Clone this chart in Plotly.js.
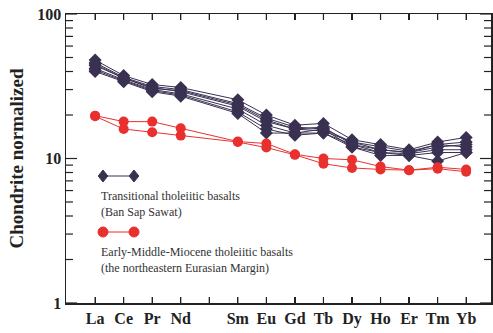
<!DOCTYPE html>
<html>
<head>
<meta charset="utf-8">
<script src="https://cdn.plot.ly/plotly-3.0.1.min.js"></script>
<style>html,body{margin:0;padding:0;background:#fff;}#chart{width:493px;height:333px;}</style>
</head>
<body>
<div id="chart"></div>
<script>
// REE elements (Pm omitted -> gap position)
var elements = ['La','Ce','Pr','Nd','Pm','Sm','Eu','Gd','Tb','Dy','Ho','Er','Tm','Yb'];
var tickLabels = ['La','Ce','Pr','Nd','','Sm','Eu','Gd','Tb','Dy','Ho','Er','Tm','Yb'];
var yMajorTicks = [1, 10, 100];
var yMinorTicks = [2,3,4,5,6,7,8,9,20,30,40,50,60,70,80,90];

// Transitional tholeiitic basalts (Ban Sap Sawat) samples
var bss1 = [48, 37.5, 32.5, 31, null, 25.5, 20, 17, 17.5, 13.5, 12.5, 11.5, 13, 14];
var bss2 = [46, 36.5, 31.5, 30, null, 24, 19, 16.5, 16, 13, 12, 11.2, 12.5, 13];
var bss3 = [44, 36, 31, 29, null, 23, 18, 16, 15.5, 13, 11.5, 11, 12.5, 12];
var bss4 = [42, 35, 30, 28, null, 22, 17, 15, 15, 12.5, 11, 10.8, 11.5, 11.5];
var bss5 = [41, 34.5, 29.5, 27.5, null, 21, 16, 14.5, 15, 12, 10.5, 10.5, 11, 11];
var bss6 = [40, 34, 29, 27, null, 20.5, 15, 15, 16, 12, 11, 10.5, 9.6, 11];
var bss7 = [45, 36, 30.5, 29.5, null, 23.5, 18.5, 16, 16.5, 12.5, 11.5, 11, 12, 12.5];
var bssSamples = [bss1, bss2, bss3, bss4, bss5, bss6, bss7];

// Early-Middle-Miocene tholeiitic basalts (NE Eurasian Margin)
var nem1 = [19.8, 18, 18, 16.2, null, 13.1, 12.7, 10.7, 10, 9.8, 8.8, 8.3, 8.7, 8.4];
var nem2 = [19.6, 16, 15.2, 14.4, null, 13, 11.9, 10.6, 9.2, 8.6, 8.4, 8.3, 8.5, 8.1];
var nemSamples = [nem1, nem2];

var legendText = [
  ['Transitional tholeiitic basalts', '(Ban Sap Sawat)'],
  ['Early-Middle-Miocene tholeiitic basalts', '(the northeastern Eurasian Margin)']
];

var blue = '#3a3152';
var red = '#e8312f';
var idx = elements.map(function(_, i){ return i; });

var traces = [];
bssSamples.forEach(function(s){
  traces.push({x: idx, y: s, type:'scatter', mode:'lines+markers', connectgaps:true,
    line:{color:blue, width:1}, marker:{symbol:'diamond', size:10, color:blue},
    showlegend:false, hoverinfo:'skip'});
});
nemSamples.forEach(function(s){
  traces.push({x: idx, y: s, type:'scatter', mode:'lines+markers', connectgaps:true,
    line:{color:red, width:1}, marker:{symbol:'circle', size:10, color:red},
    showlegend:false, hoverinfo:'skip'});
});

// plot-area pixel helpers for the hand-placed legend and tick marks (decoration only)
var L = 66, R = 491, T = 14, B = 303;
var PW = R - L, PH = B - T;
function px(x){ return (x - L) / PW; }
function py(y){ return (B - y) / PH; }

var serif = '"Liberation Serif", "Times New Roman", serif';
var legFont = {family:serif, size:12, color:'#333'};
var annotations = [
  {x:99, y:196, text:legendText[0][0]},
  {x:99, y:212, text:legendText[0][1]},
  {x:99, y:252, text:legendText[1][0]},
  {x:99, y:268, text:legendText[1][1]}
].map(function(a){
  return {x:px(a.x), y:py(a.y), xref:'paper', yref:'paper', text:a.text, showarrow:false,
    xanchor:'left', yanchor:'middle', font:legFont};
});

function diamond(cx, cy, r){
  var x0 = px(cx - r*0.8), x1 = px(cx + r*0.8), xc = px(cx);
  var y0 = py(cy - r), y1 = py(cy + r), yc = py(cy);
  return {type:'path', xref:'paper', yref:'paper',
    path:'M'+x0+','+yc+' L'+xc+','+y0+' L'+x1+','+yc+' L'+xc+','+y1+' Z',
    fillcolor:blue, line:{color:blue, width:1}};
}
function circle(cx, cy, r){
  return {type:'circle', xref:'paper', yref:'paper',
    x0:px(cx - r), x1:px(cx + r), y0:py(cy + r), y1:py(cy - r),
    fillcolor:red, line:{color:red, width:1}};
}
var shapes = [
  {type:'line', xref:'paper', yref:'paper', x0:px(103), x1:px(134), y0:py(176), y1:py(176), line:{color:blue, width:1}},
  diamond(103, 176, 6), diamond(134, 176, 6),
  {type:'line', xref:'paper', yref:'paper', x0:px(103), x1:px(134), y0:py(232), y1:py(232), line:{color:red, width:1}},
  circle(103, 232, 5), circle(134, 232, 5)
];

// inward tick marks drawn as shapes on the axis scales (bottom/top, left/right)
var tickLine = {color:'#222', width:1.2};
idx.forEach(function(i){
  shapes.push({type:'line', xref:'x', yref:'paper', x0:i, x1:i, y0:0, y1:6/PH, line:tickLine});
  shapes.push({type:'line', xref:'x', yref:'paper', x0:i, x1:i, y0:1, y1:1 - 6/PH, line:tickLine});
});
yMajorTicks.concat(yMinorTicks).forEach(function(v){
  var len = yMajorTicks.indexOf(v) >= 0 ? 11 : 7;
  shapes.push({type:'line', xref:'paper', yref:'y', x0:0, x1:len/PW, y0:v, y1:v, line:tickLine});
  shapes.push({type:'line', xref:'paper', yref:'y', x0:1, x1:1 - len/PW, y0:v, y1:v, line:tickLine});
});

var tickFont = {family:serif, size:16, color:'#222', weight:'bold'};

var layout = {
  width:493, height:333,
  margin:{l:L, r:493 - R, t:T, b:333 - B, pad:0},
  paper_bgcolor:'#fff', plot_bgcolor:'#fff',
  showlegend:false,
  xaxis:{
    range:[-1.02, 13.87], tickmode:'array', tickvals:idx, ticktext:tickLabels,
    ticks:'inside', ticklen:6, tickwidth:1.2, tickcolor:'#222',
    showline:true, linecolor:'#222', linewidth:1.5, mirror:'ticks',
    showgrid:false, zeroline:false, tickfont:tickFont, fixedrange:true
  },
  yaxis:{
    type:'log', range:[0, 2], tickmode:'array', tickvals:yMajorTicks, ticktext:yMajorTicks.map(String),
    ticks:'inside', ticklen:11, tickwidth:1.2, tickcolor:'#222',
    showline:true, linecolor:'#222', linewidth:1.5, mirror:'ticks',
    showgrid:false, zeroline:false, tickfont:tickFont,
    title:{text:'Chondrite normalized', font:{family:serif, size:19, color:'#222', weight:'bold'}, standoff:8},
    fixedrange:true
  },
  shapes:shapes,
  annotations:annotations
};

Plotly.newPlot('chart', traces, layout, {displayModeBar:false, staticPlot:true});
</script>
</body>
</html>
